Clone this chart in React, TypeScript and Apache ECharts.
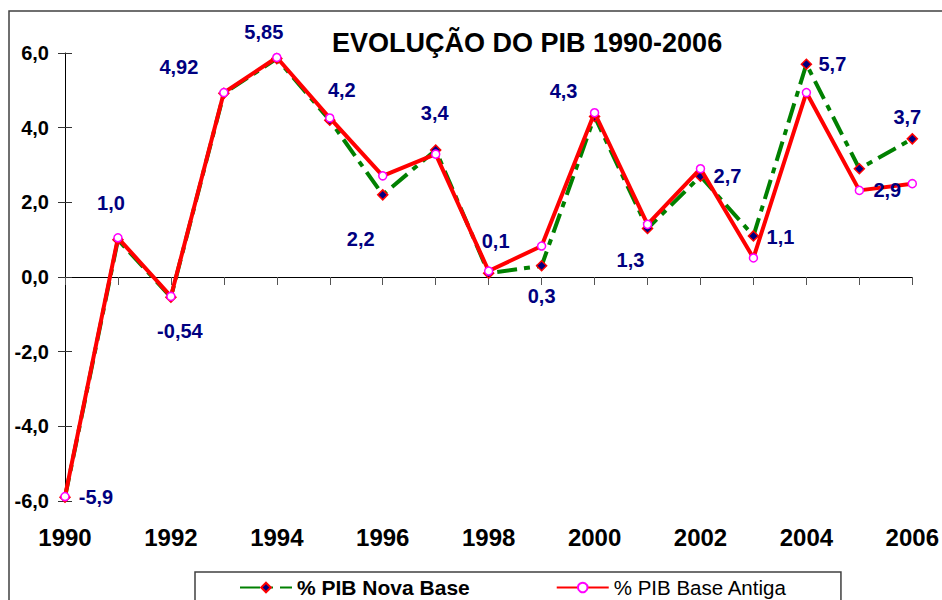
import React, { useEffect, useRef } from "react";
import * as echarts from "echarts";

const years = ["1990","1991","1992","1993","1994","1995","1996","1997","1998","1999","2000","2001","2002","2003","2004","2005","2006"];
const novaBase = [-5.9, 1.0, -0.54, 4.92, 5.85, 4.2, 2.2, 3.4, 0.1, 0.3, 4.3, 1.3, 2.7, 1.1, 5.7, 2.9, 3.7];
const baseAntiga = [-5.88, 1.05, -0.52, 4.94, 5.88, 4.26, 2.71, 3.29, 0.16, 0.83, 4.4, 1.41, 2.9, 0.51, 4.94, 2.32, 2.5];
const yTicks = [-6, -4, -2, 0, 2, 4, 6];
const seriesNames = ["% PIB Nova Base", "% PIB Base Antiga"];
const titleText = "EVOLUÇÃO DO PIB 1990-2006";

// label placement (pixels from the point's centre), styling only
const labelOffsets: [number, number][] = [
  [31, 0], [-7, -37], [9, 34], [-45, -26], [-13, -27], [12, -30], [-22, 44], [-1, -37],
  [7, -32], [0, 30], [-31, -25], [-17, 32], [27, 0], [27, 1], [26, 0], [28, 21], [-5, -22],
];

const fmt = (v: number) => (Number.isInteger(v) ? v.toFixed(1) : String(v)).replace(".", ",");

export default function App() {
  const ref = useRef<HTMLDivElement>(null);
  useEffect(() => {
    if (!ref.current) return;
    const chart = echarts.init(ref.current, null, { renderer: "svg" });
    const font = "'Liberation Sans', Arial, sans-serif";
    chart.setOption({
      animation: false,
      backgroundColor: "#ffffff",
      textStyle: { fontFamily: font },
      title: {
        text: titleText,
        left: 327,
        top: 24,
        textStyle: { fontSize: 27, fontWeight: "bold", color: "#000", fontFamily: font },
      },
      graphic: [
        {
          type: "rect",
          shape: { x: 9, y: 11, width: 1000, height: 700 },
          style: { fill: "none", stroke: "#404040", lineWidth: 1.5 },
          silent: true,
          z: -1,
        },
      ],
      legend: {
        left: 195,
        top: 572,
        padding: [5, 54, 25, 44],
        itemWidth: 52,
        itemHeight: 12,
        itemGap: 86,
        borderColor: "#404040",
        borderWidth: 1.5,
        backgroundColor: "#fff",
        textStyle: { fontSize: 21, color: "#000", fontFamily: font },
        data: [
          { name: seriesNames[0], textStyle: { fontWeight: "bold", fontSize: 21 } },
          { name: seriesNames[1], textStyle: { fontWeight: "normal", fontSize: 20.5 } },
        ],
      },
      grid: { left: 65, right: 29, top: 53, bottom: 99 },
      xAxis: [
        {
          type: "category",
          data: years,
          boundaryGap: false,
          axisLine: { onZero: true, lineStyle: { color: "#000", width: 1 } },
          axisTick: { show: true, inside: false, length: 8, interval: 0, lineStyle: { color: "#555" } },
          axisLabel: { show: false },
          splitLine: { show: false },
        },
        {
          type: "category",
          data: years,
          boundaryGap: false,
          axisLine: { show: false, onZero: true },
          axisTick: { show: true, inside: true, length: 8, interval: 0, lineStyle: { color: "#555" } },
          axisLabel: { show: false },
          splitLine: { show: false },
        },
        {
          type: "category",
          data: years,
          boundaryGap: false,
          position: "bottom",
          axisLine: { show: false, onZero: false },
          axisTick: { show: false },
          axisLabel: {
            show: true,
            interval: 1,
            margin: 24,
            fontSize: 24,
            fontWeight: "bold",
            color: "#000",
            fontFamily: font,
          },
          splitLine: { show: false },
        },
      ],
      yAxis: [
        {
          type: "value",
          min: -6,
          max: 6,
          interval: 2,
          axisLine: { show: true, onZero: false, lineStyle: { color: "#000", width: 1 } },
          axisTick: { show: true, length: 7, lineStyle: { color: "#333" } },
          axisLabel: {
            margin: 16,
            fontSize: 20,
            fontWeight: "bold",
            color: "#000",
            fontFamily: font,
            formatter: (v: number) => (yTicks.includes(v) ? v.toFixed(1).replace(".", ",") : ""),
          },
          splitLine: { show: false },
        },
        {
          type: "value",
          min: -6,
          max: 6,
          interval: 2,
          position: "left",
          axisLine: { show: false, onZero: false },
          axisTick: { show: true, inside: true, length: 7, lineStyle: { color: "#333" } },
          axisLabel: { show: false },
          splitLine: { show: false },
        },
      ],
      series: [
        {
          name: seriesNames[0],
          type: "line",
          data: novaBase,
          xAxisIndex: 0,
          yAxisIndex: 0,
          symbol: "diamond",
          symbolSize: 10,
          itemStyle: { color: "#000080", borderColor: "#ff0000", borderWidth: 1.5 },
          lineStyle: { color: "#008000", width: 4, type: [20, 7, 6, 7] },
          z: 2,
        },
        {
          name: seriesNames[1],
          type: "line",
          data: baseAntiga,
          xAxisIndex: 0,
          yAxisIndex: 0,
          symbol: "circle",
          symbolSize: 8,
          itemStyle: { color: "#ffffff", borderColor: "#ff00ff", borderWidth: 1.5 },
          lineStyle: { color: "#ff0000", width: 4 },
          z: 3,
        },
        {
          name: "labels",
          type: "scatter",
          xAxisIndex: 0,
          yAxisIndex: 0,
          silent: true,
          symbolSize: 1,
          itemStyle: { color: "rgba(0,0,0,0)", opacity: 1 },
          z: 5,
          data: novaBase.map((v, i) => ({
            value: [years[i], v],
            label: {
              show: true,
              position: "inside",
              offset: labelOffsets[i],
              formatter: fmt(v),
              fontSize: 20,
              fontWeight: "bold",
              color: "#000080",
              opacity: 1,
              fontFamily: font,
            },
          })),
        },
      ],
    });
    return () => chart.dispose();
  }, []);
  return <div ref={ref} style={{ position: "fixed", left: 0, top: 0, width: 942, height: 600 }} />;
}
